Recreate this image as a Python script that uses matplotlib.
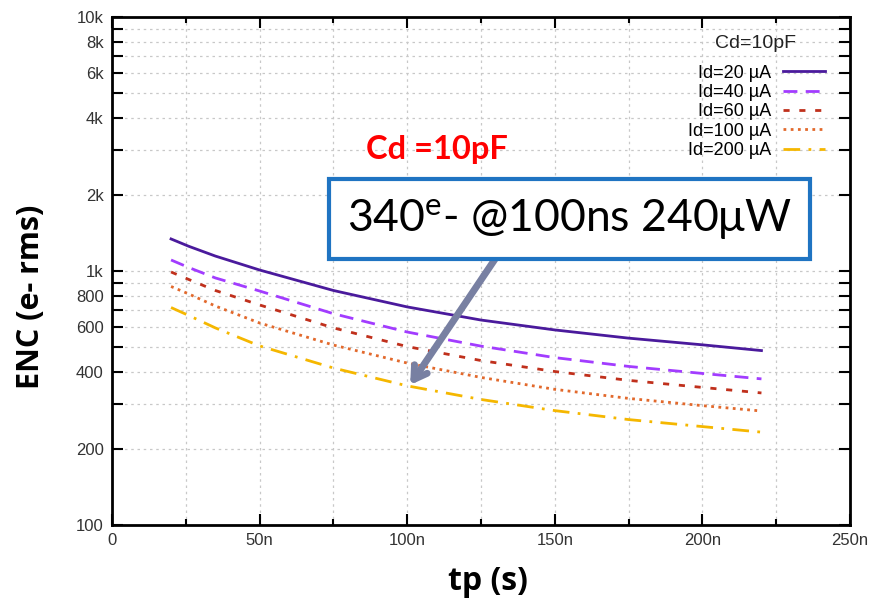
import matplotlib
matplotlib.use("Agg")
import matplotlib.pyplot as plt
from matplotlib.ticker import FixedLocator, FuncFormatter, NullFormatter

plt.rcParams['font.family'] = ['Liberation Sans', 'DejaVu Sans']
plt.rcParams['mathtext.fontset'] = 'custom'
plt.rcParams['mathtext.rm'] = 'Lato'

# shaping time in ns
tp_ns = [20, 26, 35, 50, 75, 100, 125, 150, 175, 200, 220]

# ENC (e- rms)
enc_id20 = [1337, 1251, 1145, 1009, 838, 722, 641, 586, 544, 512, 486]
enc_id40 = [1105, 1032, 939, 834, 679, 575, 506, 456, 421, 395, 376]
enc_id60 = [991, 926, 838, 735, 597, 504, 444, 402, 371, 348, 331]
enc_id100 = [869, 812, 728, 624, 511, 434, 381, 342, 315, 295, 281]
enc_id200 = [718, 668, 597, 507, 415, 353, 312, 282, 260, 244, 232]

labels = ['Id=20 µA', 'Id=40 µA', 'Id=60 µA', 'Id=100 µA', 'Id=200 µA']
colors = ['#4a1a9c', '#a23cff', '#c0301c', '#e2692c', '#f5b700']
styles = ['-', (0, (5, 3)), (0, (2.2, 3.5)), (0, (1, 1.6)), (0, (6, 3, 1, 3))]

y_major = [100, 200, 400, 600, 800, 1000, 2000, 4000, 6000, 8000, 10000]
y_major_lbl = ['100', '200', '400', '600', '800', '1k', '2k', '4k', '6k', '8k', '10k']
y_minor = [300, 500, 700, 900, 3000, 5000, 7000, 9000]

fig = plt.figure(figsize=(8.71, 6.03), dpi=100)
ax = fig.add_axes([0.1286, 0.1294, 0.8473, 0.8424])

series = [enc_id20, enc_id40, enc_id60, enc_id100, enc_id200]
for vals, lab, col, ls in zip(series, labels, colors, styles):
    ax.plot(tp_ns, vals, color=col, linestyle=ls, linewidth=2, label=lab)

ax.set_yscale('log')
ax.set_xlim(0, 250)
ax.set_ylim(100, 10000)

ax.xaxis.set_major_locator(FixedLocator([0, 50, 100, 150, 200, 250]))
ax.xaxis.set_minor_locator(FixedLocator([25, 75, 125, 175, 225]))
ax.xaxis.set_major_formatter(FuncFormatter(lambda v, p: '0' if v == 0 else '%dn' % v))
ax.yaxis.set_major_locator(FixedLocator(y_major))
ax.yaxis.set_major_formatter(FuncFormatter(lambda v, p: y_major_lbl[y_major.index(int(round(v)))]))
ax.yaxis.set_minor_locator(FixedLocator(y_minor))
ax.yaxis.set_minor_formatter(NullFormatter())

ax.tick_params(which='both', direction='in', top=True, right=True, width=1.5,
               labelsize=12, labelcolor='#333333', pad=6)
ax.tick_params(axis='x', which='major', length=8)
ax.tick_params(axis='x', which='minor', length=4)
ax.tick_params(axis='y', which='both', length=8)

for sp in ax.spines.values():
    sp.set_linewidth(2)

ax.grid(True, which='both', color='#c8c8c8', linestyle=(0, (2, 3)), linewidth=0.9)
ax.set_axisbelow(True)

ax.set_xlabel('tp (s)', fontsize=23, fontweight='bold', family='Open Sans')
ax.set_ylabel('ENC (e- rms)', fontsize=22, fontweight='bold', family='Open Sans')
ax.xaxis.set_label_coords(0.509, -0.079)
ax.yaxis.set_label_coords(-0.089, 0.449)

ax.legend(loc='upper right', bbox_to_anchor=(0.966, 0.906), frameon=False,
          markerfirst=False, fontsize=13, handlelength=2.3, labelspacing=0.13,
          handletextpad=0.7, borderpad=0, borderaxespad=0)
ax.text(0.8726, 0.948, 'Cd=10pF', transform=ax.transAxes, fontsize=14,
        ha='center', va='center', color='#222222')

ax.text(110, 3000, 'Cd =10pF', color='#ff0000', fontsize=23.5, fontweight='bold',
        family='Lato', ha='center', va='center')

ax.annotate('', xy=(101, 356), xytext=(130, 1125),
            arrowprops=dict(arrowstyle='->,head_length=0.9,head_width=0.55',
                            color='#7880a2', lw=5, shrinkA=0, shrinkB=0))

ax.text(155, 1600, '340$^{\\mathrm{e}}$- @100ns 240μW', fontsize=32, family='Lato',
        ha='center', va='center', color='black',
        bbox=dict(boxstyle='square,pad=0.4', fc='white', ec='#1f74c2', lw=3))

fig.savefig('out.png', dpi=100)
